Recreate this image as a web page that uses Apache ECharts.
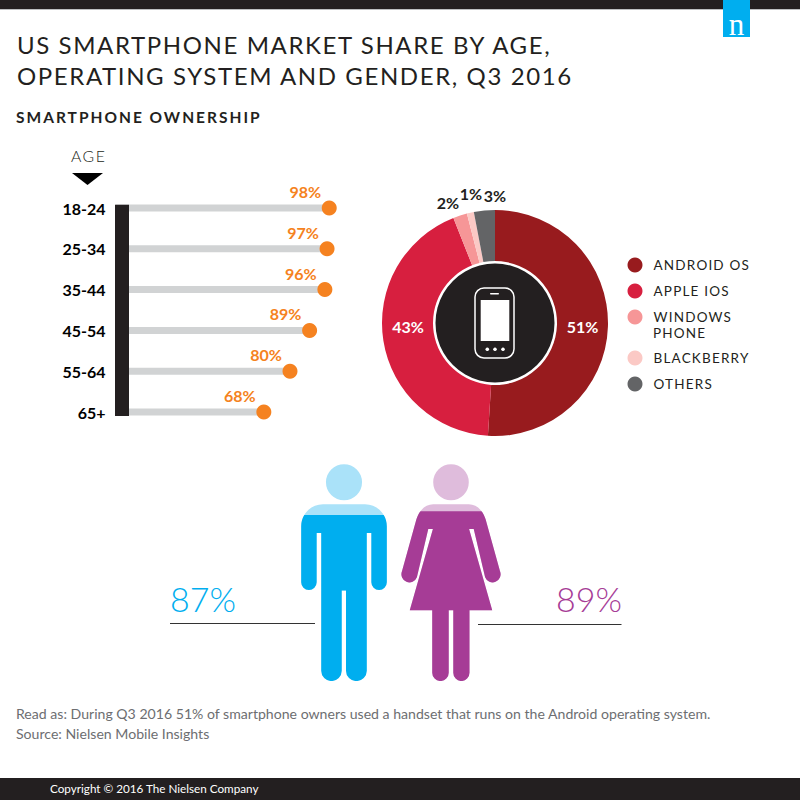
<!DOCTYPE html>
<html>
<head>
<meta charset="utf-8">
<title>US smartphone market share</title>
<script src="https://cdn.jsdelivr.net/npm/echarts@6/dist/echarts.min.js"></script>
<style>
  html, body { margin: 0; background: #fff; }
  #chart { width: 800px; height: 800px; }
  /* zrender has no letter spacing option, so the tracked type is set here by font size */
  text[style*="24px"] { letter-spacing: 1.6px; }
  text[style*="15.5px"] { letter-spacing: 2px; }
  text[style*="13.5px"] { letter-spacing: 1.2px; }
  text[style*="15.8px"] { letter-spacing: 1.5px; }
</style>
</head>
<body>
<div id="chart"></div>
<script>
const ageLabels = ["18-24", "25-34", "35-44", "45-54", "55-64", "65+"];
const ageValues = [98, 97, 96, 89, 80, 68];
const osNames = ["ANDROID OS", "APPLE IOS", "WINDOWS PHONE", "BLACKBERRY", "OTHERS"];
const osValues = [51, 43, 2, 1, 3];
const genderNames = ["Men", "Women"];
const genderValues = [87, 89];

const FONT = "Lato";
const ORANGE = "#f58220";
const INK = "#231f20";
const MAN_COLOR = "#00aeef";
const WOMAN_COLOR = "#a63c96";
const OS_COLORS = ["#981b1e", "#d71f3f", "#f69697", "#fbc9c5", "#636466"];

// top of the figures, in % on the fill scale (the heads sit above 100)
const FIGURE_TOP = 113.7;

const MAN_PATH =
  "path://M326 482A18 18 0 1 1 362 482A18 18 0 1 1 326 482Z" +
  "M323 504H365C377 504 386.7 514 386.7 526V582A7.7 7.7 0 0 1 371.3 582V532.7H366.7V670.5" +
  "A10.35 10.2 0 0 1 346 670.5V590.3H341.7V670.5A10.2 10.2 0 0 1 321.3 670.5V532.7H316.7V582" +
  "A7.7 7.7 0 0 1 301.3 582V526C301.3 514 311 504 323 504Z";
const WOMAN_PATH =
  "path://M433 482A18 18 0 1 1 469 482A18 18 0 1 1 433 482Z" +
  "M433 504H469C477 504 483 510 486 519L500.6 571A7.9 7.9 0 0 1 485.5 577L474 528.7H469.3L492.7 610H469.7V672.4" +
  "A8.2 8.3 0 0 1 453.3 672.4V610H448.7V672.4A8.35 8.3 0 0 1 432 672.4V610H409.3L432.7 528.7H428L416.5 577" +
  "A7.9 7.9 0 0 1 401.4 571L416 519C419 510 425 504 433 504Z";
const FIGURE_PATHS = [MAN_PATH, WOMAN_PATH];
const FIGURE_SIZES = [[85.4, 216.7], [99.2, 216.7]];
const FIGURE_COLORS = [MAN_COLOR, WOMAN_COLOR];
const FIGURE_LIGHT = ["#aae2f9", "#dfbcdc"];

// where the pie labels sit, they do not follow the slices in the original
const PIE_LABEL_POS = [[582.5, 326], [408, 326], [448, 202], [471, 193], [495, 195]];

function text(x, y, str, size, opts) {
  return {
    type: "text",
    z: 20,
    style: Object.assign({
      x: x, y: y, text: str, fill: INK,
      font: (opts && opts.font) || `400 ${size}px ${FONT}`,
      verticalAlign: "middle",
    }, opts && opts.style),
  };
}

function rule(x1, x2, y) {
  return {
    type: "line",
    z: 20,
    shape: { x1: x1, y1: y, x2: x2, y2: y },
    style: { stroke: "#333", lineWidth: 1 },
  };
}

const chart = echarts.init(document.getElementById("chart"), null, { renderer: "svg" });

chart.setOption({
  animation: false,
  backgroundColor: "#fff",
  textStyle: { fontFamily: FONT },
  grid: [
    { left: 115.6, width: 218, top: 187.6, height: 244.8 },
    { left: 290.5, width: 214, top: 464, height: 217 },
  ],
  xAxis: [
    { gridIndex: 0, type: "value", min: 0, max: 100, show: false },
    { gridIndex: 1, type: "category", data: genderNames, show: false },
  ],
  yAxis: [
    {
      gridIndex: 0,
      type: "category",
      inverse: true,
      data: ageLabels,
      axisLine: { show: false },
      axisTick: { show: false },
      axisLabel: { color: "#000", fontSize: 16, fontWeight: "bold", margin: 10 },
    },
    { gridIndex: 1, type: "value", min: 0, max: FIGURE_TOP, show: false },
  ],
  legend: [
    {
      data: osNames.slice(0, 3),
      left: 622.5, top: 252.5,
      orient: "vertical",
      icon: "circle",
      itemWidth: 15, itemHeight: 15, itemGap: 11,
      selectedMode: false,
      formatter: (name) => name.replace(" PHONE", ""),
      textStyle: { color: INK, fontSize: 13.5, padding: [0, 0, 0, 6] },
    },
    {
      data: osNames.slice(3),
      left: 622.5, top: 345.5,
      orient: "vertical",
      icon: "circle",
      itemWidth: 15, itemHeight: 15, itemGap: 11,
      selectedMode: false,
      textStyle: { color: INK, fontSize: 13.5, padding: [0, 0, 0, 6] },
    },
  ],
  series: [
    {
      type: "bar",
      xAxisIndex: 0, yAxisIndex: 0,
      data: ageValues,
      barWidth: 7,
      silent: true,
      itemStyle: { color: "#d1d3d4" },
    },
    {
      type: "scatter",
      xAxisIndex: 0, yAxisIndex: 0,
      data: ageValues.map((v, i) => [v, ageLabels[i]]),
      symbolSize: 15,
      silent: true,
      itemStyle: { color: ORANGE, opacity: 1 },
      label: {
        show: true,
        position: "top",
        distance: 1,
        offset: [-24, 0],
        formatter: (p) => p.value[0] + "%",
        color: ORANGE,
        fontSize: 16,
        fontWeight: "bold",
      },
    },
    {
      type: "pie",
      center: [495, 323],
      radius: [62, 113],
      startAngle: 90,
      clockwise: true,
      silent: true,
      data: osNames.map((name, i) => ({
        name: name,
        value: osValues[i],
        itemStyle: { color: OS_COLORS[i] },
        label: { color: i < 2 ? "#fff" : INK },
      })),
      labelLine: { show: false },
      label: { show: true, formatter: "{c}%", fontSize: 16, fontWeight: "bold" },
      labelLayout: (p) => ({
        x: PIE_LABEL_POS[p.dataIndex][0],
        y: PIE_LABEL_POS[p.dataIndex][1],
        align: "center",
        verticalAlign: "middle",
      }),
    },
    // pale full figures behind, the same figures clipped at the value on top
    {
      type: "pictorialBar",
      xAxisIndex: 1, yAxisIndex: 1,
      silent: true,
      z: 5,
      data: genderNames.map((name, i) => ({
        value: FIGURE_TOP,
        symbol: FIGURE_PATHS[i],
        symbolSize: FIGURE_SIZES[i],
        itemStyle: { color: FIGURE_LIGHT[i] },
      })),
    },
    {
      type: "pictorialBar",
      xAxisIndex: 1, yAxisIndex: 1,
      silent: true,
      z: 6,
      symbolClip: true,
      symbolBoundingData: FIGURE_TOP,
      data: genderValues.map((v, i) => ({
        value: v,
        symbol: FIGURE_PATHS[i],
        symbolSize: FIGURE_SIZES[i],
        itemStyle: { color: FIGURE_COLORS[i] },
      })),
    },
  ],
  graphic: [
    // top band and logo
    { type: "rect", z: 10, shape: { x: 0, y: 0, width: 800, height: 9 }, style: { fill: INK } },
    { type: "rect", z: 10, shape: { x: 0, y: 9, width: 800, height: 1 }, style: { fill: "#bcbec0" } },
    { type: "rect", z: 11, shape: { x: 723, y: 0, width: 27, height: 37 }, style: { fill: MAN_COLOR } },
    text(736.5, 24, "n", 0, { font: "400 31px 'Liberation Serif'", style: { fill: "#fff", align: "center" } }),

    text(17, 44, "US SMARTPHONE MARKET SHARE BY AGE,", 24),
    text(17, 75.5, "OPERATING SYSTEM AND GENDER, Q3 2016", 24),
    text(16, 117, "SMARTPHONE OWNERSHIP", 0, { font: `700 15.5px ${FONT}` }),

    // age column head and spine
    text(71, 155, "AGE", 0, { font: `300 15.8px ${FONT}` }),
    { type: "polygon", z: 20, shape: { points: [[72, 173], [103, 173], [87.5, 185]] }, style: { fill: "#000" } },
    { type: "rect", z: 20, shape: { x: 115, y: 204.7, width: 14, height: 211.3 }, style: { fill: INK } },

    // phone in the middle of the donut
    { type: "circle", z: 20, shape: { cx: 495, cy: 323, r: 59.5 }, style: { fill: INK } },
    { type: "rect", z: 21, shape: { x: 475, y: 288, width: 39, height: 70, r: 9 }, style: { fill: "none", stroke: "#fff", lineWidth: 1.5 } },
    { type: "rect", z: 21, shape: { x: 480.7, y: 300, width: 28.6, height: 41 }, style: { fill: "#fff" } },
    { type: "rect", z: 21, shape: { x: 490, y: 293, width: 9, height: 1.5, r: 0.7 }, style: { fill: "#fff" } },
    { type: "circle", z: 21, shape: { cx: 487.3, cy: 349.3, r: 1.8 }, style: { fill: "#fff" } },
    { type: "circle", z: 21, shape: { cx: 495, cy: 349.3, r: 1.8 }, style: { fill: "#fff" } },
    { type: "circle", z: 21, shape: { cx: 503, cy: 349.3, r: 1.8 }, style: { fill: "#fff" } },

    text(653, 333, "PHONE", 13.5),

    // gender callouts
    text(170, 598, genderValues[0] + "%", 0, { font: `300 34px ${FONT}`, style: { fill: MAN_COLOR } }),
    text(622, 598, genderValues[1] + "%", 0, { font: `300 34px ${FONT}`, style: { fill: WOMAN_COLOR, align: "right" } }),
    rule(170, 315, 623.5),
    rule(478, 621.5, 624.5),

    // footnotes and bottom band
    text(16, 713, "Read as: During Q3 2016 51% of smartphone owners used a handset that runs on the Android operating system.", 0, { font: `400 14.1px ${FONT}`, style: { fill: "#6d6e71" } }),
    text(16, 733, "Source: Nielsen Mobile Insights", 0, { font: `400 14.1px ${FONT}`, style: { fill: "#6d6e71" } }),
    { type: "rect", z: 10, shape: { x: 0, y: 778, width: 800, height: 22 }, style: { fill: INK } },
    text(50, 788, "Copyright © 2016 The Nielsen Company", 0, { font: `400 11.7px ${FONT}`, style: { fill: "#fff" } }),
  ],
});
</script>
</body>
</html>
